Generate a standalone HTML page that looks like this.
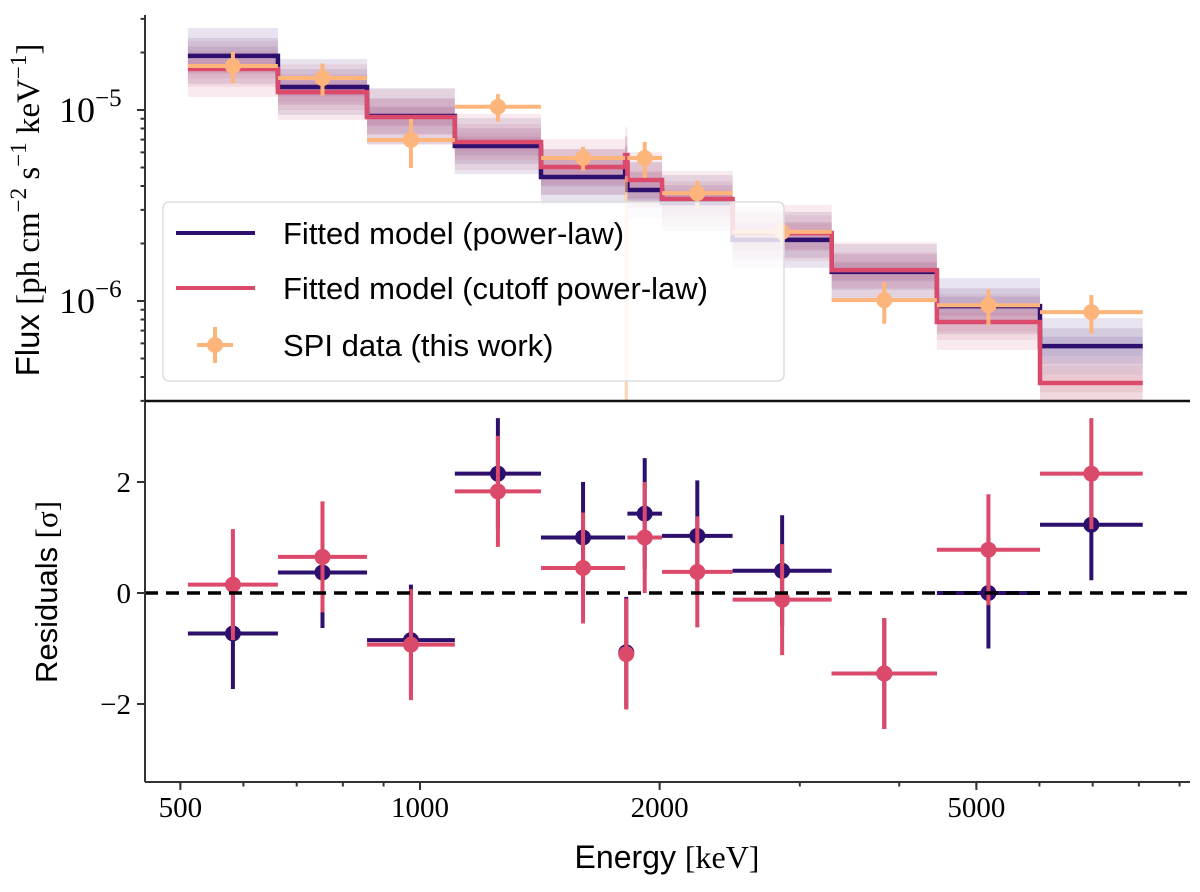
<!DOCTYPE html>
<html><head><meta charset="utf-8"><style>
body{margin:0;background:#fff;}
svg text{font-family:"Liberation Serif",serif;}
.sans{font-family:"Liberation Sans",sans-serif;}
</style></head><body>
<svg id="c" width="1200" height="887" viewBox="0 0 1200 887" xmlns="http://www.w3.org/2000/svg"></svg>
<script>
const binEdges=[511,663,858,1106,1419,1810,1822,2014,2470,3290,4460,6010,8090];
const modelPL=[1.92e-5,1.32e-5,0.93e-5,0.648e-5,0.446e-5,0.52e-5,0.381e-5,0.326e-5,0.209e-5,0.142e-5,0.094e-5,0.058e-5];
const modelCPL=[1.64e-5,1.24e-5,0.919e-5,0.68e-5,0.503e-5,0.58e-5,0.43e-5,0.342e-5,0.227e-5,0.145e-5,0.0776e-5,0.0372e-5];
const dataFlux=[1.70e-5,1.47e-5,0.697e-5,1.04e-5,0.561e-5,-0.1e-5,0.561e-5,0.367e-5,0.23e-5,1.01e-6,0.95e-6,0.875e-6];
const dataErr=[0.32e-5,0.28e-5,0.2e-5,0.17e-5,0.08e-5,0.55e-5,0.12e-5,0.06e-5,0.03e-5,0.25e-6,0.2e-6,0.2e-6];
const residPL=[-0.73,0.37,-0.85,2.15,1.0,-1.07,1.43,1.03,0.4,-1.45,0.0,1.23];
const residCPL=[0.15,0.65,-0.93,1.83,0.45,-1.1,1.0,0.38,-0.12,-1.45,0.78,2.15];
const xTicks=[500,1000,2000,5000];
const yTopTicks=[1e-5,1e-6];
const yTopTickLabels=["10","10"];
const yTopTickExp=["−5","−6"];
const yBotTicks=[-2,0,2];

const PUR="#2d0f6e",RED="#dc4a6b",ORG="#feb57c";
const svg=document.getElementById('c');
const NS="http://www.w3.org/2000/svg";
function el(t,a,p){const e=document.createElementNS(NS,t);for(const k in a)e.setAttribute(k,a[k]);(p||svg).appendChild(e);return e;}
const L=145,R=1190,T=15,MID=401,B=782;
const X=e=>420+796*Math.log10(e/1000);
const YT=f=>110-191*Math.log10(f/1e-5);
const YB=v=>593-55.5*v;
const clipT=v=>Math.max(T,Math.min(MID,v));

const defs=el('defs',{});
const cp=el('clipPath',{id:'ct'},defs);el('rect',{x:L,y:T,width:R-L,height:MID-T},cp);
const cp2=el('clipPath',{id:'cb'},defs);el('rect',{x:L,y:MID,width:R-L,height:B-MID},cp2);
const gT=el('g',{'clip-path':'url(#ct)'});
const gB=el('g',{'clip-path':'url(#cb)'});

const bandF=[1.12,1.24,1.4];
[[modelPL,"#5b3a8a"],[modelCPL,"#d0688a"]].forEach(([m,col],mi)=>{
  for(let i=0;i<m.length;i++){
    bandF.forEach(f=>{
      const r=el('rect',{x:X(binEdges[i]),y:YT(m[i]*f),width:X(binEdges[i+1])-X(binEdges[i]),height:YT(m[i]/f)-YT(m[i]*f),fill:col,'fill-opacity':0.14},gT);
      
      
    });
  }
});
function step(m,col,name){
  let d="";
  for(let i=0;i<m.length;i++){
    d+=(i?"L":"M")+X(binEdges[i])+","+YT(m[i])+"L"+X(binEdges[i+1])+","+YT(m[i]);
  }
  const p=el('path',{d:d,fill:'none',stroke:col,'stroke-width':4.5},gT);
  
  
}
step(modelPL,PUR,'powerlaw-model-line');
step(modelCPL,RED,'cutoff-model-line');
for(let i=0;i<dataFlux.length;i++){
  const xc=Math.sqrt(binEdges[i]*binEdges[i+1]);
  const g=el('g',{},gT);
  
  
  const f=dataFlux[i],e=dataErr[i];
  const y1=f+e>0?YT(f+e):MID+10, y2=f-e>0?YT(f-e):MID+10;
  const narrow=i===5;
  el('line',{x1:X(xc),x2:X(xc),y1:clipT(y1),y2:clipT(y2),stroke:ORG,'stroke-width':narrow?3:4,'stroke-opacity':narrow?0.6:1},g);
  if(f>0){
    el('line',{x1:X(binEdges[i]),x2:X(binEdges[i+1]),y1:YT(f),y2:YT(f),stroke:ORG,'stroke-width':4},g);
    el('circle',{cx:X(xc),cy:YT(f),r:8,fill:ORG},g);
  }
}
[[residPL,PUR,'residual-powerlaw'],[residCPL,RED,'residual-cutoff']].forEach(([arr,col,name])=>{
  for(let i=0;i<arr.length;i++){
    const xc=Math.sqrt(binEdges[i]*binEdges[i+1]);
    const g=el('g',{},gB);
    
    
    el('line',{x1:X(xc),x2:X(xc),y1:YB(arr[i]+1),y2:YB(arr[i]-1),stroke:col,'stroke-width':4},g);
    el('line',{x1:X(binEdges[i]),x2:X(binEdges[i+1]),y1:YB(arr[i]),y2:YB(arr[i]),stroke:col,'stroke-width':4},g);
    el('circle',{cx:X(xc),cy:YB(arr[i]),r:8,fill:col},g);
  }
});
const zl=el('line',{x1:L,x2:R,y1:YB(0),y2:YB(0),stroke:'#000','stroke-width':3.5,'stroke-dasharray':'13,8'});



const ax=el('g',{stroke:'#333','stroke-width':2});


el('line',{x1:L,x2:L,y1:T,y2:B},ax);
el('line',{x1:L,x2:R,y1:B,y2:B},ax);
el('line',{x1:L,x2:R,y1:MID,y2:MID,stroke:'#111','stroke-width':2.5},ax);
for(let d=-7;d<=-5;d++){for(let k=1;k<10;k++){const v=k*Math.pow(10,d);const y=YT(v);if(y<T||y>MID)continue;el('line',{x1:L-(k===1?8:4.5),x2:L,y1:y,y2:y},ax);}}
yTopTicks.forEach((v,i)=>{
  const t=el('text',{x:59,y:YT(v)+12,'font-size':36,fill:'#000'});
  
  
  t.textContent=yTopTickLabels[i];
  const s=el('tspan',{dy:-16,'font-size':25},t);s.textContent=yTopTickExp[i];
});
yBotTicks.forEach(v=>{
  el('line',{x1:L-8,x2:L,y1:YB(v),y2:YB(v)},ax);
  const t=el('text',{x:L-14,y:YB(v)+10,'text-anchor':'end','font-size':29,fill:'#000'});
  
  
  t.textContent=v<0?"−"+(-v):String(v);
});
for(let d=2;d<=3;d++){for(let k=1;k<10;k++){const v=k*Math.pow(10,d);const x=X(v);if(x<L||x>R)continue;el('line',{x1:x,x2:x,y1:B,y2:B+4.5},ax);}}
xTicks.forEach(v=>{
  el('line',{x1:X(v),x2:X(v),y1:B,y2:B+8},ax);
  const t=el('text',{x:X(v),y:B+35,'text-anchor':'middle','font-size':29,fill:'#000'});
  
  
  t.textContent=v;
});
let t=el('text',{x:667,y:868,'text-anchor':'middle','font-size':32,fill:'#000'});

t.innerHTML='<tspan class="sans">Energy </tspan>[keV]';
t=el('text',{transform:'translate(39,210) rotate(-90)','text-anchor':'middle','font-size':33,fill:'#000'});

t.innerHTML='<tspan class="sans">Flux </tspan>[ph cm<tspan dy="-13" font-size="23">−2</tspan><tspan dy="13"> s</tspan><tspan dy="-13" font-size="23">−1</tspan><tspan dy="13"> keV</tspan><tspan dy="-13" font-size="23">−1</tspan><tspan dy="13">]</tspan>';
t=el('text',{transform:'translate(57,592) rotate(-90)','text-anchor':'middle','font-size':31,fill:'#000'});

t.innerHTML='<tspan class="sans">Residuals </tspan>[σ]';

const lg=el('g',{});


el('rect',{x:163,y:202,width:621,height:179,rx:6,fill:'#fff','fill-opacity':0.82,stroke:'#ddd','stroke-width':1.5},lg);
const ent=[[PUR,'Fitted model (power-law)',233],[RED,'Fitted model (cutoff power-law)',288],[ORG,'SPI data (this work)',345]];
ent.forEach(([c,s,y],i)=>{
  const g=el('g',{},lg);
  
  
  if(i<2) el('line',{x1:176,x2:255,y1:y,y2:y,stroke:c,'stroke-width':4},g);
  else {el('line',{x1:197,x2:233,y1:y,y2:y,stroke:c,'stroke-width':4},g);el('line',{x1:215,x2:215,y1:y-18,y2:y+18,stroke:c,'stroke-width':4},g);el('circle',{cx:215,cy:y,r:8,fill:c},g);}
  const tx=el('text',{x:283,y:y+11,'font-size':31,fill:'#000',class:'sans'},g);
  tx.textContent=s;
});
</script>
</body></html>
